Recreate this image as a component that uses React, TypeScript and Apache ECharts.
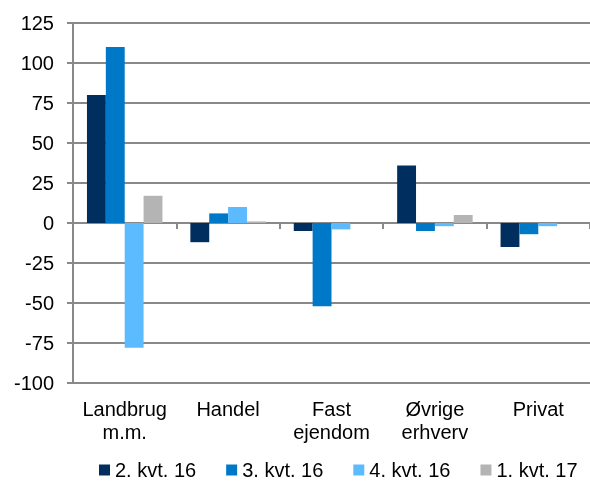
import React, { useEffect, useRef } from "react";
import * as echarts from "echarts";

const categories = ["Landbrug\nm.m.", "Handel", "Fast\nejendom", "Øvrige\nerhverv", "Privat"];
const seriesNames = ["2. kvt. 16", "3. kvt. 16", "4. kvt. 16", "1. kvt. 17"];
const q2_16 = [80, -12, -5, 36, -15];
const q3_16 = [110, 6, -52, -5, -7];
const q4_16 = [-78, 10, -4, -2, -2];
const q1_17 = [17, 1, 0, 5, 0];
const seriesValues = [q2_16, q3_16, q4_16, q1_17];
const colors = ["#002E5F", "#0078C8", "#5CBBFF", "#B4B4B4"];
const yMin = -100;
const yMax = 125;
const yInterval = 25;

const FONT = "'Liberation Sans', Arial, sans-serif";
const GRAY = "#898989";

export default function App() {
  const ref = useRef<HTMLDivElement>(null);
  useEffect(() => {
    if (!ref.current) return;
    const chart = echarts.init(ref.current, undefined, { renderer: "svg" });
    chart.setOption({
      animation: false,
      textStyle: { fontFamily: FONT },
      grid: { left: 73, right: -6, top: 23, bottom: 98, containLabel: false },
      legend: {
        data: seriesNames,
        left: 99,
        top: 460,
        padding: 0,
        itemWidth: 11,
        itemHeight: 11,
        itemGap: 30,
        icon: "rect",
        textStyle: { fontSize: 20, lineHeight: 20, color: "#000", fontFamily: FONT },
      },
      xAxis: [
        {
          type: "category",
          data: categories,
          position: "bottom",
          axisLine: { show: false, onZero: false },
          axisTick: { show: false },
          axisLabel: { interval: 0, fontSize: 20, lineHeight: 23, color: "#000", margin: 14, fontFamily: FONT },
          splitLine: { show: false },
        },
        {
          type: "category",
          data: categories,
          position: "bottom",
          axisLine: { show: true, onZero: true, lineStyle: { color: GRAY, width: 2 } },
          axisTick: { show: true, length: 6, lineStyle: { color: GRAY, width: 2 } },
          axisLabel: { show: false },
          splitLine: { show: false },
        },
      ],
      yAxis: {
        type: "value",
        min: yMin,
        max: yMax,
        interval: yInterval,
        axisLine: { show: true, lineStyle: { color: GRAY, width: 2 } },
        axisTick: { show: true, length: 6, lineStyle: { color: GRAY, width: 2 } },
        axisLabel: { fontSize: 20, color: "#000", margin: 19, fontFamily: FONT },
        splitLine: { show: true, lineStyle: { color: GRAY, width: 2 } },
      },
      series: seriesNames.map((name, i) => ({
        name,
        type: "bar",
        xAxisIndex: 0,
        data: seriesValues[i],
        itemStyle: { color: colors[i] },
        barGap: "0%",
        barCategoryGap: "27%",
      })),
    });
    return () => chart.dispose();
  }, []);
  return <div ref={ref} style={{ position: "fixed", left: 0, top: 0, width: 590, height: 481 }} />;
}
